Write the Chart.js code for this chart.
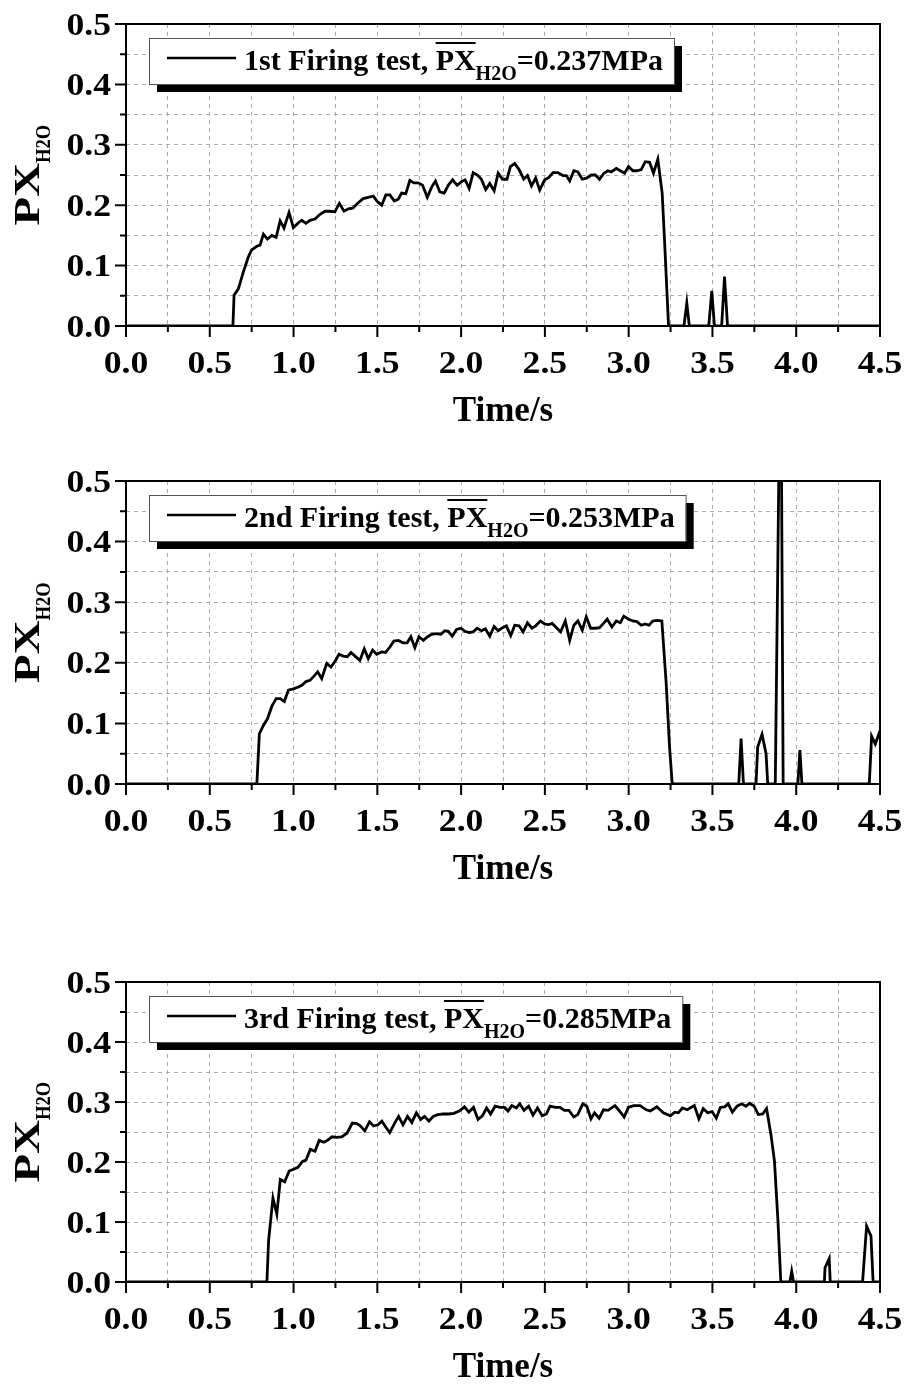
<!DOCTYPE html>
<html lang="en">
<head>
  <meta charset="UTF-8" />
  <title>PX H2O Firing tests</title>
  <script src="https://cdn.jsdelivr.net/npm/chart.js"></script>
  <style>
    body { margin: 0; background: #fff; }
    .panel { position: absolute; left: 0; }
  </style>
</head>
<body>

  <div class="panel" style="top:0"><canvas id="c1" width="907" height="450"></canvas></div>
  <div class="panel" style="top:450px"><canvas id="c2" width="907" height="460"></canvas></div>
  <div class="panel" style="top:910px"><canvas id="c3" width="907" height="474"></canvas></div>

  <script>
    // [time in s, PX_H2O in MPa]
    const run1 = [[0,0],[0.638,0],[0.645,.051],[0.671,.062],[0.701,.090],[0.731,.115],[0.750,.126],[0.781,.132],[0.800,.134],[0.820,.152],[0.844,.144],[0.870,.150],[0.896,.147],[0.920,.174],[0.943,.162],[0.973,.188],[0.999,.163],[1.029,.171],[1.049,.175],[1.074,.170],[1.098,.175],[1.128,.177],[1.158,.185],[1.188,.190],[1.217,.190],[1.247,.189],[1.273,.203],[1.301,.190],[1.327,.194],[1.353,.195],[1.386,.204],[1.416,.211],[1.446,.213],[1.476,.215],[1.500,.206],[1.526,.200],[1.551,.217],[1.575,.217],[1.601,.207],[1.625,.210],[1.645,.220],[1.670,.219],[1.694,.241],[1.718,.237],[1.744,.237],[1.770,.233],[1.798,.213],[1.824,.230],[1.847,.240],[1.873,.222],[1.899,.220],[1.923,.233],[1.949,.242],[1.976,.233],[2.002,.239],[2.024,.242],[2.048,.228],[2.072,.254],[2.101,.249],[2.121,.243],[2.147,.226],[2.171,.236],[2.197,.224],[2.221,.253],[2.247,.243],[2.274,.243],[2.294,.264],[2.320,.269],[2.346,.259],[2.374,.243],[2.396,.249],[2.420,.232],[2.445,.245],[2.469,.225],[2.499,.242],[2.524,.246],[2.548,.254],[2.578,.254],[2.608,.249],[2.628,.249],[2.648,.240],[2.673,.257],[2.697,.255],[2.723,.243],[2.751,.245],[2.777,.250],[2.801,.250],[2.826,.243],[2.852,.253],[2.876,.257],[2.896,.255],[2.926,.261],[2.950,.257],[2.976,.253],[2.999,.264],[3.025,.257],[3.049,.257],[3.075,.259],[3.099,.272],[3.125,.271],[3.148,.253],[3.174,.276],[3.200,.220],[3.214,.142],[3.238,0],[3.330,0],[3.347,.038],[3.362,0],[3.478,0],[3.496,.058],[3.512,0],[3.555,0],[3.572,.082],[3.590,0],[4.5,0]];

    const run2 = [[0,0],[0.781,0],[0.796,.083],[0.821,.097],[0.845,.108],[0.870,.128],[0.896,.141],[0.920,.141],[0.945,.136],[0.969,.155],[0.999,.157],[1.029,.160],[1.049,.163],[1.074,.169],[1.098,.171],[1.122,.178],[1.144,.185],[1.168,.174],[1.198,.199],[1.223,.193],[1.247,.202],[1.271,.214],[1.297,.211],[1.321,.210],[1.343,.217],[1.367,.211],[1.396,.204],[1.422,.223],[1.446,.207],[1.472,.221],[1.496,.214],[1.526,.218],[1.549,.217],[1.575,.226],[1.599,.236],[1.625,.237],[1.654,.233],[1.678,.233],[1.700,.243],[1.724,.225],[1.748,.243],[1.774,.237],[1.800,.243],[1.824,.247],[1.853,.248],[1.879,.247],[1.903,.253],[1.923,.252],[1.947,.244],[1.973,.255],[1.999,.257],[2.022,.252],[2.048,.250],[2.072,.251],[2.096,.257],[2.121,.253],[2.145,.256],[2.171,.244],[2.197,.260],[2.221,.253],[2.247,.258],[2.270,.261],[2.296,.245],[2.320,.262],[2.346,.261],[2.370,.251],[2.396,.266],[2.423,.257],[2.445,.261],[2.473,.269],[2.499,.264],[2.522,.263],[2.544,.265],[2.569,.258],[2.594,.251],[2.622,.269],[2.648,.237],[2.673,.262],[2.697,.269],[2.723,.254],[2.747,.276],[2.773,.257],[2.801,.257],[2.826,.258],[2.850,.265],[2.872,.272],[2.900,.259],[2.926,.269],[2.950,.266],[2.971,.277],[2.999,.272],[3.025,.269],[3.049,.268],[3.075,.262],[3.099,.264],[3.121,.262],[3.144,.269],[3.170,.270],[3.198,.269],[3.224,.166],[3.244,.061],[3.260,0],[3.657,0],[3.671,.075],[3.685,0],[3.760,0],[3.770,.061],[3.796,.082],[3.820,.050],[3.830,0],[3.875,0],[3.897,.53],[3.912,.53],[3.922,0],[4.010,0],[4.022,.056],[4.034,0],[4.436,0],[4.450,.079],[4.472,.066],[4.5,.088]];

    const run3 = [[0,0],[0.841,0],[0.851,.069],[0.877,.140],[0.900,.113],[0.921,.171],[0.947,.167],[0.974,.185],[1.000,.188],[1.026,.191],[1.053,.201],[1.074,.203],[1.100,.221],[1.128,.218],[1.153,.236],[1.181,.233],[1.202,.236],[1.230,.242],[1.255,.241],[1.287,.242],[1.319,.248],[1.351,.265],[1.378,.264],[1.400,.260],[1.425,.252],[1.453,.267],[1.478,.260],[1.504,.262],[1.527,.268],[1.553,.257],[1.574,.249],[1.602,.264],[1.627,.276],[1.653,.262],[1.680,.276],[1.706,.266],[1.733,.282],[1.759,.271],[1.782,.276],[1.808,.268],[1.833,.276],[1.861,.279],[1.893,.280],[1.925,.280],[1.957,.281],[1.989,.285],[2.020,.292],[2.046,.283],[2.074,.291],[2.101,.271],[2.127,.277],[2.152,.290],[2.176,.280],[2.203,.293],[2.233,.291],[2.259,.291],[2.280,.285],[2.303,.294],[2.329,.290],[2.350,.297],[2.375,.286],[2.403,.293],[2.429,.278],[2.456,.290],[2.484,.277],[2.509,.280],[2.531,.293],[2.563,.291],[2.590,.291],[2.616,.286],[2.643,.286],[2.673,.275],[2.696,.279],[2.726,.297],[2.750,.293],[2.775,.272],[2.796,.282],[2.824,.273],[2.850,.287],[2.877,.286],[2.918,.294],[2.945,.285],[2.973,.275],[2.998,.291],[3.030,.294],[3.068,.294],[3.105,.287],[3.130,.285],[3.168,.292],[3.207,.282],[3.249,.277],[3.275,.283],[3.296,.282],[3.321,.290],[3.349,.287],[3.392,.294],[3.419,.272],[3.445,.289],[3.472,.282],[3.498,.284],[3.523,.273],[3.547,.291],[3.572,.292],[3.594,.297],[3.619,.283],[3.647,.293],[3.674,.297],[3.700,.293],[3.721,.298],[3.749,.293],[3.774,.279],[3.800,.280],[3.823,.289],[3.849,.246],[3.870,.202],[3.891,.102],[3.908,0],[3.962,0],[3.973,.018],[3.984,0],[4.168,0],[4.172,.024],[4.197,.039],[4.203,0],[4.396,0],[4.420,.093],[4.446,.077],[4.459,0],[4.5,0]];

    const runNames = ['1st', '2nd', '3rd'];
    const runMeans = ['0.237', '0.253', '0.285'];

    const xTicks = { min: 0, max: 4.5, step: 0.25, major: 0.5 };
    const yTicks = { min: 0, max: 0.5, step: 0.05, major: 0.1 };

    const SERIF = '"Liberation Serif", "Times New Roman", serif';

    // draws text squeezed/stretched horizontally by sx
    function drawText(ctx, text, x, y, size, sx, align) {
      ctx.save();
      ctx.font = 'bold ' + size + 'px ' + SERIF;
      ctx.textAlign = 'left';
      ctx.textBaseline = 'alphabetic';
      const w = ctx.measureText(text).width * sx;
      const x0 = align === 'center' ? x - w / 2 : align === 'right' ? x - w : x;
      ctx.translate(x0, y);
      ctx.scale(sx, 1);
      ctx.fillStyle = '#000';
      ctx.fillText(text, 0, 0);
      ctx.restore();
      return w;
    }

    function textWidth(ctx, text, size) {
      ctx.save();
      ctx.font = 'bold ' + size + 'px ' + SERIF;
      const w = ctx.measureText(text).width;
      ctx.restore();
      return w;
    }

    const isMajor = (v, m) => Math.abs(v / m - Math.round(v / m)) < 1e-6;

    const decor = {
      id: 'decor',
      afterDraw(chart, args, opts) {
        const { ctx, chartArea: a, scales: { x, y } } = chart;

        // frame
        ctx.save();
        ctx.strokeStyle = '#000';
        ctx.lineWidth = 2;
        ctx.strokeRect(a.left, a.top, a.right - a.left, a.bottom - a.top);

        // tick marks, outward
        ctx.beginPath();
        x.ticks.forEach(t => {
          const px = x.getPixelForValue(t.value);
          const len = isMajor(t.value, xTicks.major) ? 11 : 6;
          ctx.moveTo(px, a.bottom);
          ctx.lineTo(px, a.bottom + len);
        });
        y.ticks.forEach(t => {
          const py = y.getPixelForValue(t.value);
          const len = isMajor(t.value, yTicks.major) ? 11 : 6;
          ctx.moveTo(a.left, py);
          ctx.lineTo(a.left - len, py);
        });
        ctx.stroke();
        ctx.restore();

        // tick labels
        x.ticks.forEach(t => {
          if (!isMajor(t.value, xTicks.major)) return;
          drawText(ctx, t.value.toFixed(1), x.getPixelForValue(t.value), a.bottom + 47, 31, 1.15, 'center');
        });
        y.ticks.forEach(t => {
          if (!isMajor(t.value, yTicks.major)) return;
          drawText(ctx, t.value.toFixed(1), a.left - 15, y.getPixelForValue(t.value) + 10.5, 31, 1.15, 'right');
        });

        // axis titles
        drawText(ctx, 'Time/s', (a.left + a.right) / 2, a.bottom + 95, 35, 1, 'center');

        ctx.save();
        ctx.translate(39, (a.top + a.bottom) / 2);
        ctx.rotate(-Math.PI / 2);
        const wP = textWidth(ctx, 'PX', 36) * 1.3;
        const wS = textWidth(ctx, 'H2O', 22) * 0.85;
        const s0 = -(wP + wS) / 2;
        drawText(ctx, 'PX', s0, 0, 36, 1.3, 'left');
        drawText(ctx, 'H2O', s0 + wP, 11, 22, 0.85, 'left');
        ctx.restore();

        // legend box with drop shadow
        const part1 = opts.name + ' Firing test, ';
        const part3 = '=' + opts.mean + 'MPa';
        const w1 = textWidth(ctx, part1, 30);
        const w2 = textWidth(ctx, 'PX', 30);
        const w3 = textWidth(ctx, 'H2O', 20);
        const w4 = textWidth(ctx, part3, 30);
        const bx = 149, by = a.top + 14, bh = 46;
        const tx = 244;
        const bw = tx + w1 + w2 + w3 + w4 + 11 - bx;

        ctx.save();
        ctx.fillStyle = '#000';
        ctx.fillRect(bx + 8, by + 8, bw, bh);
        ctx.fillStyle = '#fff';
        ctx.fillRect(bx, by, bw, bh);
        ctx.strokeStyle = '#555';
        ctx.lineWidth = 1;
        ctx.strokeRect(bx + 0.5, by + 0.5, bw, bh);
        ctx.strokeStyle = '#000';
        ctx.lineWidth = 2.5;
        ctx.beginPath();
        ctx.moveTo(167, by + 20);
        ctx.lineTo(236, by + 20);
        ctx.stroke();
        ctx.lineWidth = 2;
        ctx.beginPath();
        ctx.moveTo(tx + w1, by + 5);
        ctx.lineTo(tx + w1 + w2, by + 5);
        ctx.stroke();
        ctx.restore();

        drawText(ctx, part1, tx, by + 32, 30, 1, 'left');
        drawText(ctx, 'PX', tx + w1, by + 32, 30, 1, 'left');
        drawText(ctx, 'H2O', tx + w1 + w2, by + 42, 20, 1, 'left');
        drawText(ctx, part3, tx + w1 + w2 + w3, by + 32, 30, 1, 'left');
      }
    };

    function makeChart(id, run, idx, pad) {
      return new Chart(document.getElementById(id), {
        type: 'line',
        data: {
          datasets: [{
            label: runNames[idx] + ' Firing test',
            data: run.map(([t, v]) => ({ x: t, y: v })),
            borderColor: '#000',
            borderWidth: 2.8,
            pointRadius: 0,
            tension: 0,
            fill: false
          }]
        },
        options: {
          responsive: false,
          animation: false,
          layout: { padding: pad },
          plugins: {
            legend: { display: false },
            tooltip: { enabled: false },
            decor: { name: runNames[idx], mean: runMeans[idx] }
          },
          scales: {
            x: {
              type: 'linear',
              min: xTicks.min,
              max: xTicks.max,
              ticks: { stepSize: xTicks.step, display: false },
              grid: { color: '#ababab', lineWidth: 1, drawTicks: false },
              border: { display: false, dash: [4, 4] }
            },
            y: {
              min: yTicks.min,
              max: yTicks.max,
              ticks: { stepSize: yTicks.step, display: false },
              grid: { color: '#ababab', lineWidth: 1, drawTicks: false },
              border: { display: false, dash: [4, 4] }
            }
          }
        },
        plugins: [decor]
      });
    }

    makeChart('c1', run1, 0, { left: 126, right: 27, top: 24, bottom: 124 });
    makeChart('c2', run2, 1, { left: 126, right: 27, top: 31, bottom: 126 });
    makeChart('c3', run3, 2, { left: 126, right: 27, top: 72, bottom: 102 });
  </script>

</body>
</html>
